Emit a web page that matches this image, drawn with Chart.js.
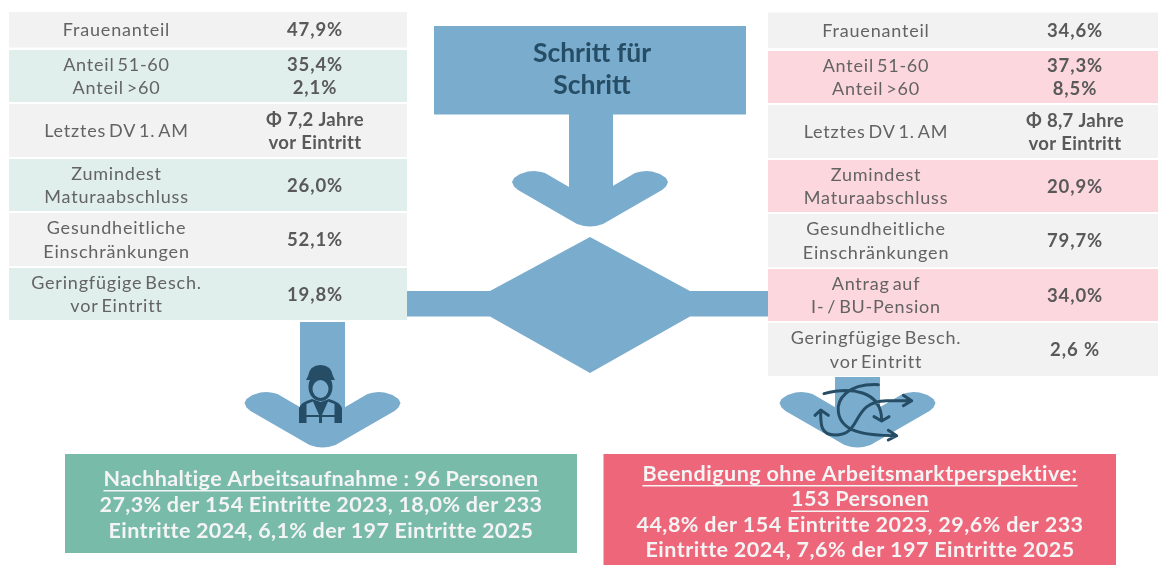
<!DOCTYPE html>
<html lang="de">
<head>
<meta charset="utf-8">
<title>Schritt für Schritt</title>
<style>
    html, body { margin: 0; padding: 0; background: #ffffff; }
    canvas { display: block; }
</style>
<script src="https://cdn.jsdelivr.net/npm/chart.js@4"></script>
</head>
<body>
<canvas id="flowChart" width="1158" height="565"></canvas>
<script>
// Table contents
const leftLabels = [["Frauenanteil"], ["Anteil 51-60", "Anteil >60"], ["Letztes DV 1. AM"], ["Zumindest", "Maturaabschluss"], ["Gesundheitliche", "Einschränkungen"], ["Geringfügige Besch.", "vor Eintritt"]];
const leftValues = [["47,9%"], ["35,4%", "2,1%"], ["Φ 7,2 Jahre", "vor Eintritt"], ["26,0%"], ["52,1%"], ["19,8%"]];
const rightLabels = [["Frauenanteil"], ["Anteil 51-60", "Anteil >60"], ["Letztes DV 1. AM"], ["Zumindest", "Maturaabschluss"], ["Gesundheitliche", "Einschränkungen"], ["Antrag auf", "I- / BU-Pension"], ["Geringfügige Besch.", "vor Eintritt"]];
const rightValues = [["34,6%"], ["37,3%", "8,5%"], ["Φ 8,7 Jahre", "vor Eintritt"], ["20,9%"], ["79,7%"], ["34,0%"], ["2,6 %"]];
const titleLines = ["Schritt für", "Schritt"];
const greenHead = ["Nachhaltige Arbeitsaufnahme : 96 Personen"];
const greenBody = ["27,3% der 154 Eintritte 2023, 18,0% der 233", "Eintritte 2024, 6,1% der 197 Eintritte 2025"];
const redHead = ["Beendigung ohne Arbeitsmarktperspektive:", "153 Personen"];
const redBody = ["44,8% der 154 Eintritte 2023, 29,6% der 233", "Eintritte 2024, 7,6% der 197 Eintritte 2025"];

// Layout of the diagram, in page pixels
const BLUE = "#7aaccd";
const DARK = "#264d66";
const GREY = "#f2f2f2";
const leftRows = [[12, 47.5], [50, 102], [104, 157], [159, 211], [213, 266], [268, 320]];
const rightRows = [[12.5, 48], [51, 103], [105, 158], [160, 212], [214, 267], [269, 321], [323, 376]];
// left half of the chevron outline: offset from its centre, y for the upper chevron
const chevronEdge = [[-21, 187], [-45, 173], [-50, 171.7], [-56, 171], [-62, 171.5], [-70, 174], [-76, 178], [-78, 182], [-76, 186.5], [-72, 190], [-13, 224], [-6, 226], [0, 226.5]];

function rect(x0, y0, x1, y1) {
    return [{ x: x0, y: y0 }, { x: x1, y: y0 }, { x: x1, y: y1 }, { x: x0, y: y1 }, { x: x0, y: y0 }];
}

function shape(points, color) {
    return { data: points, backgroundColor: color, borderColor: color, borderWidth: 0, fill: "shape", showLine: true, pointRadius: 0, tension: 0 };
}

function chevron(cx, shift) {
    const left = chevronEdge.map(p => ({ x: cx + p[0], y: p[1] + shift }));
    const right = chevronEdge.slice().reverse().map(p => ({ x: cx - p[0], y: p[1] + shift }));
    return shape(left.concat(right, [left[0]]), BLUE);
}

const datasets = [];
leftRows.forEach((r, i) => datasets.push(shape(rect(9, r[0], 407, r[1]), i % 2 ? "#e0efeb" : GREY)));
rightRows.forEach((r, i) => datasets.push(shape(rect(768, r[0], 1158, r[1]), i % 2 ? "#fdd7de" : GREY)));
datasets.push(shape(rect(434, 26, 746, 114.5), BLUE));
datasets.push(shape(rect(569, 114, 613, 195), BLUE));
datasets.push(chevron(590, 0));
datasets.push(shape([
    { x: 590, y: 237 }, { x: 690, y: 291 }, { x: 768, y: 291 }, { x: 768, y: 316.5 }, { x: 690, y: 316.5 },
    { x: 590, y: 373 }, { x: 490, y: 316.5 }, { x: 407, y: 316.5 }, { x: 407, y: 291 }, { x: 490, y: 291 }, { x: 590, y: 237 }
], BLUE));
datasets.push(shape(rect(300, 322, 345, 420), BLUE));
datasets.push(chevron(322.5, 221));
datasets.push(shape(rect(835, 377, 880, 420), BLUE));
datasets.push(chevron(857.5, 221));
datasets.push(shape(rect(65, 454, 577, 553), "#78bba8"));
datasets.push(shape(rect(603.5, 454, 1116, 565), "#ee667a"));

// Draws one centred line of text, optionally underlined
function putText(ctx, text, x, y, font, color, spacing, wordGap, underline) {
    ctx.font = font;
    ctx.fillStyle = color;
    ctx.letterSpacing = spacing + "px";
    ctx.wordSpacing = wordGap + "px";
    ctx.textAlign = "center";
    ctx.textBaseline = "middle";
    ctx.fillText(text, x, y);
    if (underline) {
        const w = ctx.measureText(text).width;
        ctx.fillRect(x - w / 2, y + 11, w, 1.5);
    }
}

function putRows(ctx, rows, labels, values, labelX, valueX) {
    rows.forEach((r, i) => {
        const mid = (r[0] + r[1]) / 2 + 0.7;
        labels[i].forEach((t, n) => {
            putText(ctx, t, labelX, mid + (n - (labels[i].length - 1) / 2) * 23.5, "400 18px Lato", "#636363", 0.8, -2.5);
        });
        values[i].forEach((t, n) => {
            // numbers run wider than the words in the source font
            const spacing = /%$/.test(t) ? 0.9 : 0.3;
            putText(ctx, t, valueX, mid + (n - (values[i].length - 1) / 2) * 23, "700 18.5px Lato", "#595959", spacing, 0);
        });
    });
}

function putBox(ctx, head, body, x, y, step, spacing) {
    const lines = head.concat(body);
    lines.forEach((t, n) => {
        putText(ctx, t, x, y + n * step, "700 21.5px Lato", "#f4f4f4", spacing, -0.4, n < head.length);
    });
}

function drawWorker(ctx) {
    ctx.save();
    ctx.fillStyle = DARK;
    // hair
    ctx.beginPath();
    ctx.ellipse(320.5, 387, 12, 14, 0, 0, Math.PI * 2);
    ctx.fill();
    // helmet with brim
    ctx.beginPath();
    ctx.moveTo(306, 380);
    ctx.lineTo(308, 376);
    ctx.quadraticCurveTo(310, 365, 320.5, 365);
    ctx.quadraticCurveTo(331, 365, 333, 376);
    ctx.lineTo(335, 380);
    ctx.closePath();
    ctx.fill();
    // face
    ctx.fillStyle = BLUE;
    ctx.beginPath();
    ctx.ellipse(320.5, 389, 8, 9, 0, 0, Math.PI * 2);
    ctx.fill();
    // shoulders
    ctx.fillStyle = DARK;
    ctx.beginPath();
    ctx.moveTo(299, 423);
    ctx.lineTo(299, 408);
    ctx.quadraticCurveTo(301, 402, 312, 399);
    ctx.lineTo(320.5, 402);
    ctx.lineTo(329, 399);
    ctx.quadraticCurveTo(340, 402, 342, 408);
    ctx.lineTo(342, 423);
    ctx.closePath();
    ctx.fill();
    // vest cut-outs
    ctx.fillStyle = BLUE;
    ctx.beginPath();
    ctx.moveTo(306.5, 415); ctx.lineTo(306.5, 404); ctx.lineTo(313, 401.5); ctx.lineTo(319, 415); ctx.closePath();
    ctx.moveTo(334.5, 415); ctx.lineTo(334.5, 404); ctx.lineTo(328, 401.5); ctx.lineTo(322, 415); ctx.closePath();
    ctx.moveTo(306.5, 423); ctx.lineTo(306.5, 417); ctx.lineTo(319, 417); ctx.lineTo(319, 423); ctx.closePath();
    ctx.moveTo(334.5, 423); ctx.lineTo(334.5, 417); ctx.lineTo(322, 417); ctx.lineTo(322, 423); ctx.closePath();
    ctx.fill();
    ctx.restore();
}

function drawArrows(ctx) {
    ctx.save();
    ctx.strokeStyle = DARK;
    ctx.lineCap = "round";
    ctx.lineJoin = "round";
    ctx.translate(770, 370);
    ctx.scale(1 / 3, 1 / 3);
    ctx.lineWidth = 9;
    ctx.beginPath();
    ctx.moveTo(162, 71);
    ctx.bezierCurveTo(240, 50, 335, 60, 335, 152);
    ctx.moveTo(312, 140); ctx.lineTo(335, 153); ctx.lineTo(357, 140);
    ctx.moveTo(325, 44);
    ctx.bezierCurveTo(230, 40, 200, 90, 205, 125);
    ctx.bezierCurveTo(212, 185, 280, 197, 380, 197);
    ctx.moveTo(355, 181); ctx.lineTo(380, 197); ctx.lineTo(355, 210);
    ctx.moveTo(425, 92);
    ctx.lineTo(350, 92);
    ctx.bezierCurveTo(240, 95, 280, 195, 195, 195);
    ctx.bezierCurveTo(150, 195, 152, 160, 152, 122);
    ctx.moveTo(135, 136); ctx.lineTo(152, 120); ctx.lineTo(175, 136);
    ctx.moveTo(400, 76); ctx.lineTo(425, 92); ctx.lineTo(400, 107);
    ctx.stroke();
    ctx.restore();
}

const textPlugin = {
    id: "flowText",
    afterDatasetsDraw(chart) {
        const ctx = chart.ctx;
        ctx.save();
        putRows(ctx, leftRows, leftLabels, leftValues, 116.5, 315);
        putRows(ctx, rightRows, rightLabels, rightValues, 876, 1075);
        titleLines.forEach((t, n) => putText(ctx, t, 592, 53 + n * 32, "700 26.5px Lato", DARK, 0, 0));
        putBox(ctx, greenHead, greenBody, 321, 479, 26, 0.4);
        putBox(ctx, redHead, redBody, 860, 474, 25.5, 0.5);
        drawWorker(ctx);
        drawArrows(ctx);
        ctx.restore();
    }
};

new Chart(document.getElementById("flowChart"), {
    type: "scatter",
    data: { datasets: datasets },
    options: {
        responsive: false,
        animation: false,
        layout: { padding: 0 },
        plugins: { legend: { display: false }, tooltip: { enabled: false }, title: { display: false } },
        scales: {
            x: { type: "linear", min: 0, max: 1158, display: false },
            y: { type: "linear", min: 0, max: 565, reverse: true, display: false }
        }
    },
    plugins: [textPlugin]
});
</script>
</body>
</html>
